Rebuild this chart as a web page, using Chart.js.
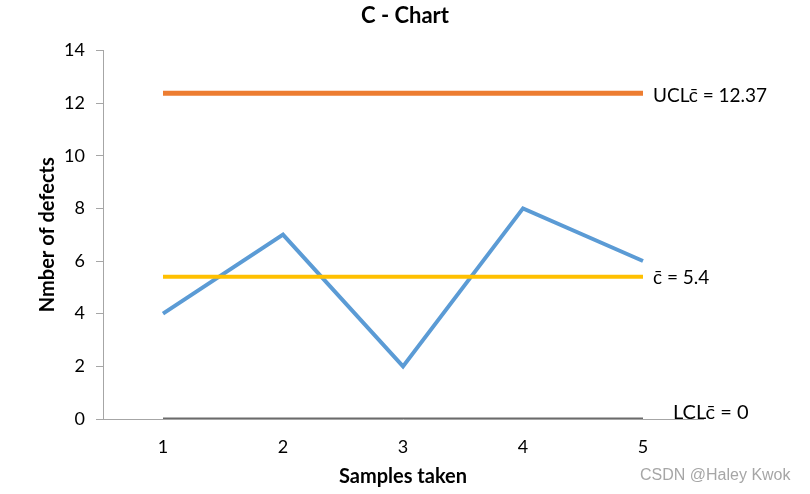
<!DOCTYPE html>
<html>
<head>
<meta charset="utf-8">
<script src="https://cdn.jsdelivr.net/npm/chart.js@4/dist/chart.umd.min.js"></script>
<style>
  html, body { margin: 0; padding: 0; background: #fff; }
  #wrap { width: 810px; height: 494px; }
</style>
</head>
<body>
<div id="wrap"><canvas id="cChart" width="810" height="494"></canvas></div>
<script>
// samples and defect counts
const samples = ["1", "2", "3", "4", "5"];
const defects = [4, 7, 2, 8, 6];

// control limits (one value per sample)
const ucl = [12.37, 12.37, 12.37, 12.37, 12.37];
const centerLine = [5.4, 5.4, 5.4, 5.4, 5.4];
const lcl = [0, 0, 0, 0, 0];

// y axis ticks
const yTicks = [0, 2, 4, 6, 8, 10, 12, 14];

// labels for the limit lines
const limitLabels = ["UCLc\u0304 = 12.37", "c\u0304 = 5.4", "LCLc\u0304 = 0"];

const FONT = "Lato, 'Noto Sans', sans-serif";

// writes the limit labels at the right end of each line + the watermark
const limitLabelPlugin = {
    id: "limitLabels",
    afterDatasetsDraw(chart) {
        const ctx = chart.ctx;
        const x = chart.scales.x;
        const y = chart.scales.y;
        const lastX = x.getPixelForValue(samples.length - 1);
        ctx.save();
        ctx.fillStyle = "#000";
        ctx.textBaseline = "middle";
        ctx.textAlign = "left";

        ctx.font = "19px " + FONT;
        ctx.fillText(limitLabels[0], lastX + 10, y.getPixelForValue(ucl[ucl.length - 1]) + 3);
        ctx.fillText(limitLabels[1], lastX + 10, y.getPixelForValue(centerLine[centerLine.length - 1]) + 1);

        ctx.font = "20px " + FONT;
        ctx.fillText(limitLabels[2], lastX + 30, y.getPixelForValue(lcl[lcl.length - 1]) - 6);

        // watermark
        ctx.font = "16px 'Liberation Sans', Arial, sans-serif";
        ctx.fillStyle = "#a6a6a6";
        ctx.fillText("CSDN @Haley Kwok", 640, 476);
        ctx.restore();
    }
};

const ctx = document.getElementById("cChart").getContext("2d");
const cChart = new Chart(ctx, {
    type: "line",
    data: {
        labels: samples,
        datasets: [
            {
                label: "Defects",
                data: defects,
                borderColor: "#5B9BD5",
                borderWidth: 4,
                pointRadius: 0,
                order: 4
            },
            {
                label: "UCL",
                data: ucl,
                borderColor: "#ED7D31",
                borderWidth: 5,
                pointRadius: 0,
                order: 3
            },
            {
                label: "CL",
                data: centerLine,
                borderColor: "#FFC000",
                borderWidth: 4,
                pointRadius: 0,
                order: 2
            },
            {
                label: "LCL",
                data: lcl,
                borderColor: "#6b6b6b",
                borderWidth: 3,
                pointRadius: 0,
                order: 1
            }
        ]
    },
    options: {
        responsive: false,
        animation: false,
        layout: { padding: 0 },
        plugins: {
            legend: { display: false },
            tooltip: { enabled: false },
            title: {
                display: true,
                text: "C - Chart",
                color: "#000",
                font: { family: FONT, size: 22, weight: "bold" },
                padding: { top: 3, bottom: 21 }
            }
        },
        scales: {
            x: {
                offset: true,
                grid: { drawOnChartArea: false, drawTicks: false },
                border: { color: "#a6a6a6", width: 1 },
                ticks: { color: "#000", font: { family: FONT, size: 18 }, padding: 17 },
                title: {
                    display: true,
                    text: "Samples taken",
                    color: "#000",
                    font: { family: FONT, size: 20, weight: "bold" },
                    padding: { top: 2, bottom: 5 }
                },
                afterFit: (scale) => { scale.height = 75; }
            },
            y: {
                min: 0,
                max: 14,
                afterBuildTicks: (scale) => { scale.ticks = yTicks.map(v => ({ value: v })); },
                grid: { drawOnChartArea: false, drawTicks: true, tickLength: 7, color: "#a6a6a6" },
                border: { color: "#a6a6a6", width: 1 },
                ticks: { color: "#000", font: { family: FONT, size: 18 }, padding: 11 },
                title: {
                    display: true,
                    text: "Nmber of defects",
                    color: "#000",
                    font: { family: FONT, size: 20, weight: "bold" },
                    padding: { top: 36, bottom: 0 }
                },
                afterFit: (scale) => { scale.width = 103; }
            },
            // empty axis on the right that only reserves room for the limit labels
            yRight: {
                position: "right",
                display: true,
                grid: { display: false },
                border: { display: false },
                ticks: { display: false },
                afterFit: (scale) => { scale.width = 107; }
            }
        }
    },
    plugins: [limitLabelPlugin]
});
</script>
</body>
</html>
